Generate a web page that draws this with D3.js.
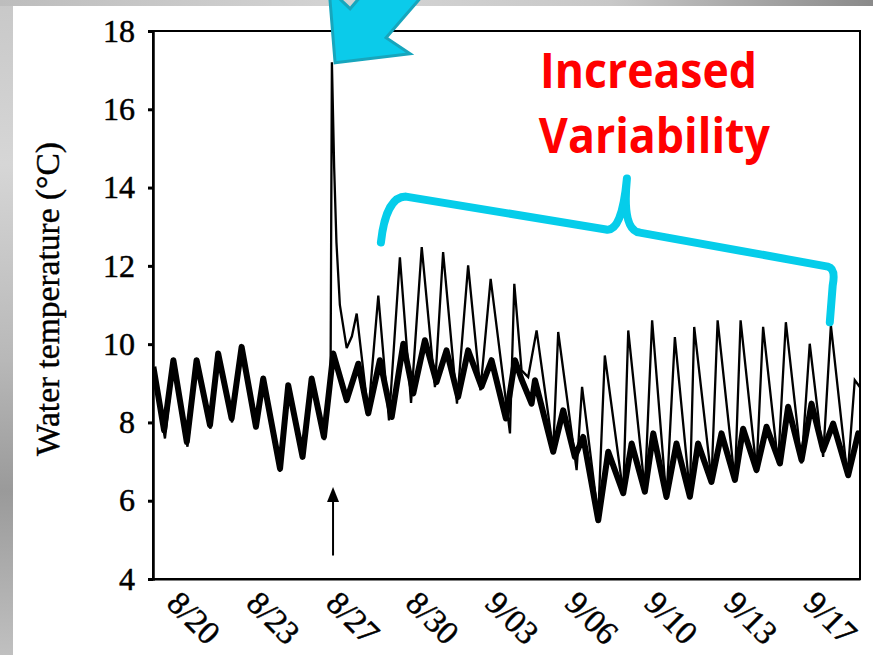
<!DOCTYPE html>
<html><head><meta charset="utf-8">
<script src="https://cdn.jsdelivr.net/npm/d3@7"></script>
<style>html,body{margin:0;padding:0;background:#fff;overflow:hidden;} svg{display:block;}</style>
</head><body>
<svg id="c" width="873" height="655"></svg>
<script>
// ---- data (day 0 = 8/20 00:00) ----
const yTickValues = [4, 6, 8, 10, 12, 14, 16, 18];
const xTickDays = [0, 3.5, 7, 10.5, 14, 17.5, 21, 24.5, 28];
const xTickLabels = ["8/20", "8/23", "8/27", "8/30", "9/03", "9/06", "9/10", "9/13", "9/17"];

// thick line
const thickDays = [-0.85,-0.38,0.03,0.62,1.05,1.64,2.00,2.59,3.03,3.66,3.98,4.72,5.08,5.71,6.11,6.65,7.06,7.65,8.16,8.60,9.11,9.63,10.14,10.58,11.09,11.60,12.04,12.55,12.99,13.58,14.02,14.65,15.05,15.34,15.78,15.93,16.73,17.17,17.68,18.05,18.71,19.15,19.81,20.18,20.76,21.13,21.71,22.15,22.74,23.10,23.69,24.13,24.72,25.08,25.67,26.11,26.70,27.06,27.65,28.09,28.60,29.04,29.70,30.14,30.22];
const thickTemps = [9.42,7.80,9.59,7.50,9.59,7.93,9.76,8.10,9.93,7.89,9.12,6.82,8.95,7.12,9.12,7.63,9.76,8.57,9.50,8.23,9.59,8.14,10.01,8.74,10.10,9.03,9.84,8.65,9.84,8.91,9.59,8.10,9.59,9.10,8.48,9.08,7.25,8.31,7.12,7.63,5.50,7.25,6.19,7.46,6.23,7.72,6.10,7.46,6.10,7.46,6.48,7.72,6.53,7.84,6.78,7.89,6.95,8.40,7.04,8.48,7.29,7.97,6.65,7.72,7.70];

// thin line
const thinDays = [-0.85,-0.34,0.03,0.65,1.05,1.66,2.00,2.61,3.03,3.68,3.98,4.72,5.08,5.73,6.11,6.67,6.94,7.00,7.10,7.20,7.35,7.65,7.88,8.09,8.60,9.04,9.51,9.99,10.48,10.95,11.53,11.89,12.50,12.99,13.53,13.98,14.83,15.02,15.34,15.63,16.00,16.73,16.95,17.76,18.00,18.71,19.00,19.81,20.03,20.76,21.08,21.71,22.08,22.74,22.93,23.69,23.96,24.72,24.97,25.67,25.96,26.62,26.96,27.65,28.01,28.60,28.94,29.67,29.99,30.22];
const thinTemps = [9.30,7.59,9.50,7.38,9.45,7.84,9.60,8.00,9.85,7.84,9.00,6.74,8.85,7.08,9.00,7.55,9.00,17.20,14.50,12.60,11.00,9.90,10.20,10.78,8.23,11.24,8.05,12.22,8.50,12.48,8.90,12.35,8.48,12.01,8.82,11.67,7.72,11.54,9.33,9.16,10.35,7.29,10.31,6.78,8.91,5.59,9.71,6.19,10.35,6.27,10.61,6.02,10.18,6.19,10.44,6.53,10.61,6.48,10.61,6.78,10.44,6.95,10.56,6.95,10.01,7.12,10.48,6.61,9.08,8.90];

const eventDay = 7.05;
const eventArrowTemps = [4.6, 6.35];
const annotationLines = ["Increased", "Variability"];
const yLabel = "Water temperature (\u00B0C)";

// ---- layout ----
const svg = d3.select("#c");
const W = 873, H = 655;
const plot = {left: 153, right: 860, top: 31, bottom: 579};
const x = d3.scaleLinear().domain([-0.866, 30.22]).range([plot.left, plot.right]);
const y = d3.scaleLinear().domain([4, 18]).range([plot.bottom, plot.top]);

// background / scan border
const defs = svg.append("defs");
const gL = defs.append("linearGradient").attr("id","gl").attr("x1",0).attr("y1",0).attr("x2",0).attr("y2",1);
[[0,"#c8c8c8"],[0.25,"#d6d6d6"],[0.55,"#b8b8b8"],[0.75,"#9a9a9a"],[1,"#c0c0c0"]].forEach(s=>gL.append("stop").attr("offset",s[0]).attr("stop-color",s[1]));
const gT = defs.append("linearGradient").attr("id","gt").attr("x1",0).attr("y1",0).attr("x2",1).attr("y2",0);
[[0,"#bdbdbd"],[0.4,"#d4d4d4"],[0.7,"#c8c8c8"],[1,"#8a8a8a"]].forEach(s=>gT.append("stop").attr("offset",s[0]).attr("stop-color",s[1]));
svg.append("rect").attr("width",W).attr("height",H).attr("fill","#fff");
svg.append("rect").attr("x",0).attr("y",0).attr("width",13).attr("height",H).attr("fill","url(#gl)");
svg.append("rect").attr("x",0).attr("y",0).attr("width",W).attr("height",6).attr("fill","url(#gt)");

const serif = "'Liberation Serif','Times New Roman',serif";

// frame
svg.append("rect").attr("x",plot.left).attr("y",plot.top)
  .attr("width",plot.right-plot.left).attr("height",plot.bottom-plot.top)
  .attr("fill","none").attr("stroke","#000").attr("stroke-width",2);

// y axis
const yAxis = d3.axisLeft(y).tickValues(yTickValues).tickSize(5).tickPadding(13).tickFormat(d3.format("d"));
const gy = svg.append("g").attr("transform",`translate(${plot.left},0)`).call(yAxis);
gy.select(".domain").attr("stroke","#000").attr("stroke-width",2.5);
gy.selectAll(".tick line").attr("stroke","#000").attr("stroke-width",3);
gy.selectAll(".tick text").attr("font-family",serif).attr("font-size",32).attr("fill","#000")
  .attr("stroke","#000").attr("stroke-width",0.5);

// x axis
const xAxis = d3.axisBottom(x).tickValues(xTickDays).tickSize(0).tickFormat((d,i)=>xTickLabels[i]);
const gx = svg.append("g").attr("transform",`translate(0,${plot.bottom})`).call(xAxis);
gx.select(".domain").attr("stroke","#000").attr("stroke-width",2);
gx.selectAll(".tick text")
  .attr("font-family",serif).attr("font-size",33).attr("fill","#000")
  .attr("stroke","#000").attr("stroke-width",0.5)
  .attr("text-anchor","start").attr("dy",null).attr("y",null)
  .attr("transform","translate(-8,26) rotate(45)");

// y label
svg.append("text").attr("transform","translate(59,299) rotate(-90)")
  .attr("text-anchor","middle").attr("font-family",serif).attr("font-size",33.5)
  .attr("stroke","#000").attr("stroke-width",0.4)
  .attr("fill","#000").text(yLabel);

// series
const thick = thickDays.map((d,i)=>({d, v: thickTemps[i]}));
const thin = thinDays.map((d,i)=>({d, v: thinTemps[i]}));
const line = d3.line().x(p=>x(p.d)).y(p=>y(p.v));
svg.append("clipPath").attr("id","pc").append("rect")
  .attr("x",plot.left).attr("y",plot.top).attr("width",plot.right-plot.left).attr("height",plot.bottom-plot.top);
const gs = svg.append("g").attr("clip-path","url(#pc)");
gs.append("path").datum(thick).attr("d",line).attr("fill","none").attr("stroke","#000")
  .attr("stroke-width",6).attr("stroke-linejoin","round");
gs.append("path").datum(thin).attr("d",line).attr("fill","none").attr("stroke","#000")
  .attr("stroke-width",2.3).attr("stroke-linejoin","miter").attr("stroke-miterlimit",3);

// event arrow
const ax = x(eventDay);
svg.append("line").attr("x1",ax).attr("x2",ax).attr("y1",y(eventArrowTemps[0])).attr("y2",y(eventArrowTemps[1])+10)
  .attr("stroke","#000").attr("stroke-width",2);
const at = y(eventArrowTemps[1]);
svg.append("path").attr("d",`M${ax},${at} L${ax-6},${at+15} L${ax+6},${at+15} Z`).attr("fill","#000");

// red annotation
const red = svg.append("g").attr("font-family","'Open Sans','Noto Sans',sans-serif").attr("font-weight","bold")
  .attr("font-size",49).attr("fill","#ff0000");
red.append("text").attr("x",x(16.15)).attr("y",y(16.55)).attr("textLength",217).attr("lengthAdjust","spacingAndGlyphs").text(annotationLines[0]);
red.append("text").attr("x",x(16.1)).attr("y",y(14.89)).attr("textLength",231).attr("lengthAdjust","spacingAndGlyphs").text(annotationLines[1]);

// cyan bracket (data coords)
const bracket = [[9.156,12.597],[9.288,13.311],[9.64,13.77],[10.255,13.77],[19.05,12.93],[19.75,12.85],[19.97,14.23],[19.75,12.90],[20.54,12.85],[28.81,11.98],[29.16,11.93],[29.02,11.50],[28.89,10.56]];
const P = bracket.map(b=>[x(b[0]), y(b[1])]);
const f = p=>`${p[0].toFixed(1)},${p[1].toFixed(1)}`;
const bd = `M${f(P[0])} C${f(P[1])} ${f(P[2])} ${f(P[3])} L${f(P[4])} Q${f(P[5])} ${f(P[6])} Q${f(P[7])} ${f(P[8])} L${f(P[9])} Q${f(P[10])} ${f(P[11])} L${f(P[12])}`;
svg.append("path").attr("d",bd).attr("fill","none").attr("stroke","#05cdea")
  .attr("stroke-width",8).attr("stroke-linecap","round").attr("stroke-linejoin","round");

// cyan block arrow pointing to spike
const tip = [x(7.14), y(17.19)];
const offs = [[0,0],[75,-9],[51,-25],[115,-99],[79,-128],[15,-54],[-6,-74]];
svg.append("path").attr("d","M"+offs.map(o=>`${tip[0]+o[0]},${tip[1]+o[1]}`).join(" L")+" Z")
  .attr("fill","#0bcbea").attr("stroke","#17a6bd").attr("stroke-width",3).attr("stroke-linejoin","miter");
</script>
</body></html>
